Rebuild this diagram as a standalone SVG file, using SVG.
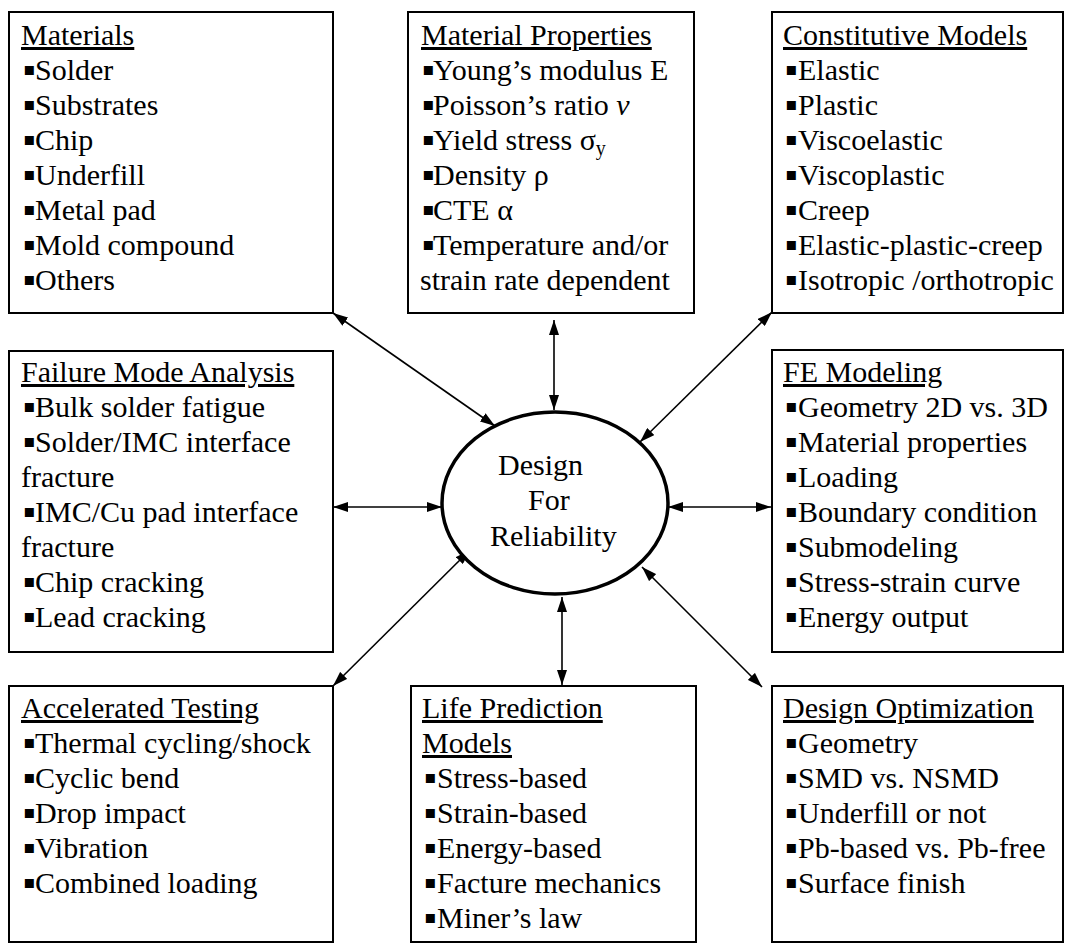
<svg xmlns="http://www.w3.org/2000/svg" width="1073" height="944" viewBox="0 0 1073 944">
  <style>
    .box { fill: #fff; stroke: #000; stroke-width: 2; }
    .t { font-family: "Liberation Serif", "Times New Roman", serif; font-size: 30px; fill: #000; }
    .h { text-decoration: underline; }
    .b { font-family: "DejaVu Sans", sans-serif; font-size: 18px; }
    .c { stroke: #000; stroke-width: 1.6; fill: none; marker-start: url(#ah); marker-end: url(#ah); }
  </style>
  <defs>
    <marker id="ah" viewBox="0 0 15 10" refX="15" refY="5" markerWidth="15" markerHeight="10" markerUnits="userSpaceOnUse" orient="auto-start-reverse">
      <path d="M0,0 L15,5 L0,10 z" fill="#000"/>
    </marker>
  </defs>

  <!-- connectors between the hub and the topic boxes -->
  <g id="connectors">
    <line class="c" x1="333" y1="313" x2="495" y2="426"/>
    <line class="c" x1="554" y1="320" x2="554" y2="410"/>
    <line class="c" x1="772" y1="312" x2="640" y2="442"/>
    <line class="c" x1="333" y1="507" x2="442" y2="507"/>
    <line class="c" x1="668" y1="507" x2="771" y2="507"/>
    <line class="c" x1="470" y1="550" x2="333" y2="686"/>
    <line class="c" x1="562" y1="597" x2="562" y2="685"/>
    <line class="c" x1="642" y1="567" x2="762" y2="687"/>
  </g>

  <g id="hub">
    <ellipse cx="555" cy="503" rx="113" ry="91" fill="#fff" stroke="#000" stroke-width="3.5"/>
    <text class="t" x="498" y="475">Design</text>
    <text class="t" x="528" y="510">For</text>
    <text class="t" x="490" y="546">Reliability</text>
  </g>

  <g id="materials">
    <rect class="box" x="9" y="12" width="324" height="301"/>
    <text class="t h" x="21" y="45">Materials</text>
    <text class="t" y="80"><tspan class="b" x="23" dy="-5">▪</tspan><tspan x="35" dy="5">Solder</tspan></text>
    <text class="t" y="115"><tspan class="b" x="23" dy="-5">▪</tspan><tspan x="35" dy="5">Substrates</tspan></text>
    <text class="t" y="150"><tspan class="b" x="23" dy="-5">▪</tspan><tspan x="35" dy="5">Chip</tspan></text>
    <text class="t" y="185"><tspan class="b" x="23" dy="-5">▪</tspan><tspan x="35" dy="5">Underfill</tspan></text>
    <text class="t" y="220"><tspan class="b" x="23" dy="-5">▪</tspan><tspan x="35" dy="5">Metal pad</tspan></text>
    <text class="t" y="255"><tspan class="b" x="23" dy="-5">▪</tspan><tspan x="35" dy="5">Mold compound</tspan></text>
    <text class="t" y="290"><tspan class="b" x="23" dy="-5">▪</tspan><tspan x="35" dy="5">Others</tspan></text>
  </g>

  <g id="material-properties">
    <rect class="box" x="408" y="12" width="286" height="301"/>
    <text class="t h" x="421" y="45">Material Properties</text>
    <text class="t" y="80"><tspan class="b" x="422" dy="-5">▪</tspan><tspan x="433" dy="5">Young’s modulus E</tspan></text>
    <text class="t" y="115"><tspan class="b" x="422" dy="-5">▪</tspan><tspan x="433" dy="5">Poisson’s ratio </tspan><tspan font-style="italic">v</tspan></text>
    <text class="t" y="150"><tspan class="b" x="422" dy="-5">▪</tspan><tspan x="433" dy="5">Yield stress σ</tspan><tspan font-size="20" dy="5">y</tspan></text>
    <text class="t" y="185"><tspan class="b" x="422" dy="-5">▪</tspan><tspan x="433" dy="5">Density ρ</tspan></text>
    <text class="t" y="220"><tspan class="b" x="422" dy="-5">▪</tspan><tspan x="433" dy="5">CTE α</tspan></text>
    <text class="t" y="255"><tspan class="b" x="422" dy="-5">▪</tspan><tspan x="433" dy="5">Temperature and/or</tspan></text>
    <text class="t" x="420" y="290">strain rate dependent</text>
  </g>

  <g id="constitutive-models">
    <rect class="box" x="772" y="12" width="291" height="301"/>
    <text class="t h" x="783" y="45">Constitutive Models</text>
    <text class="t" y="80"><tspan class="b" x="785" dy="-5">▪</tspan><tspan x="798" dy="5">Elastic</tspan></text>
    <text class="t" y="115"><tspan class="b" x="785" dy="-5">▪</tspan><tspan x="798" dy="5">Plastic</tspan></text>
    <text class="t" y="150"><tspan class="b" x="785" dy="-5">▪</tspan><tspan x="798" dy="5">Viscoelastic</tspan></text>
    <text class="t" y="185"><tspan class="b" x="785" dy="-5">▪</tspan><tspan x="798" dy="5">Viscoplastic</tspan></text>
    <text class="t" y="220"><tspan class="b" x="785" dy="-5">▪</tspan><tspan x="798" dy="5">Creep</tspan></text>
    <text class="t" y="255"><tspan class="b" x="785" dy="-5">▪</tspan><tspan x="798" dy="5">Elastic-plastic-creep</tspan></text>
    <text class="t" y="290"><tspan class="b" x="785" dy="-5">▪</tspan><tspan x="798" dy="5">Isotropic /orthotropic</tspan></text>
  </g>

  <g id="failure-mode-analysis">
    <rect class="box" x="9" y="351" width="324" height="301"/>
    <text class="t h" x="21" y="382">Failure Mode Analysis</text>
    <text class="t" y="417"><tspan class="b" x="23" dy="-5">▪</tspan><tspan x="35" dy="5">Bulk solder fatigue</tspan></text>
    <text class="t" y="452"><tspan class="b" x="23" dy="-5">▪</tspan><tspan x="35" dy="5">Solder/IMC interface</tspan></text>
    <text class="t" x="21" y="487">fracture</text>
    <text class="t" y="522"><tspan class="b" x="23" dy="-5">▪</tspan><tspan x="35" dy="5">IMC/Cu pad interface</tspan></text>
    <text class="t" x="21" y="557">fracture</text>
    <text class="t" y="592"><tspan class="b" x="23" dy="-5">▪</tspan><tspan x="35" dy="5">Chip cracking</tspan></text>
    <text class="t" y="627"><tspan class="b" x="23" dy="-5">▪</tspan><tspan x="35" dy="5">Lead cracking</tspan></text>
  </g>

  <g id="fe-modeling">
    <rect class="box" x="772" y="350" width="291" height="302"/>
    <text class="t h" x="783" y="382">FE Modeling</text>
    <text class="t" y="417"><tspan class="b" x="785" dy="-5">▪</tspan><tspan x="798" dy="5">Geometry 2D vs. 3D</tspan></text>
    <text class="t" y="452"><tspan class="b" x="785" dy="-5">▪</tspan><tspan x="798" dy="5">Material properties</tspan></text>
    <text class="t" y="487"><tspan class="b" x="785" dy="-5">▪</tspan><tspan x="798" dy="5">Loading</tspan></text>
    <text class="t" y="522"><tspan class="b" x="785" dy="-5">▪</tspan><tspan x="798" dy="5">Boundary condition</tspan></text>
    <text class="t" y="557"><tspan class="b" x="785" dy="-5">▪</tspan><tspan x="798" dy="5">Submodeling</tspan></text>
    <text class="t" y="592"><tspan class="b" x="785" dy="-5">▪</tspan><tspan x="798" dy="5">Stress-strain curve</tspan></text>
    <text class="t" y="627"><tspan class="b" x="785" dy="-5">▪</tspan><tspan x="798" dy="5">Energy output</tspan></text>
  </g>

  <g id="accelerated-testing">
    <rect class="box" x="9" y="686" width="324" height="256"/>
    <text class="t h" x="21" y="718">Accelerated Testing</text>
    <text class="t" y="753"><tspan class="b" x="23" dy="-5">▪</tspan><tspan x="35" dy="5">Thermal cycling/shock</tspan></text>
    <text class="t" y="788"><tspan class="b" x="23" dy="-5">▪</tspan><tspan x="35" dy="5">Cyclic bend</tspan></text>
    <text class="t" y="823"><tspan class="b" x="23" dy="-5">▪</tspan><tspan x="35" dy="5">Drop impact</tspan></text>
    <text class="t" y="858"><tspan class="b" x="23" dy="-5">▪</tspan><tspan x="35" dy="5">Vibration</tspan></text>
    <text class="t" y="893"><tspan class="b" x="23" dy="-5">▪</tspan><tspan x="35" dy="5">Combined loading</tspan></text>
  </g>

  <g id="life-prediction-models">
    <rect class="box" x="411" y="686" width="285" height="256"/>
    <text class="t h" x="422" y="718">Life Prediction</text>
    <text class="t h" x="422" y="753">Models</text>
    <text class="t" y="788"><tspan class="b" x="424" dy="-5">▪</tspan><tspan x="437" dy="5">Stress-based</tspan></text>
    <text class="t" y="823"><tspan class="b" x="424" dy="-5">▪</tspan><tspan x="437" dy="5">Strain-based</tspan></text>
    <text class="t" y="858"><tspan class="b" x="424" dy="-5">▪</tspan><tspan x="437" dy="5">Energy-based</tspan></text>
    <text class="t" y="893"><tspan class="b" x="424" dy="-5">▪</tspan><tspan x="437" dy="5">Facture mechanics</tspan></text>
    <text class="t" y="928"><tspan class="b" x="424" dy="-5">▪</tspan><tspan x="437" dy="5">Miner’s law</tspan></text>
  </g>

  <g id="design-optimization">
    <rect class="box" x="772" y="686" width="291" height="256"/>
    <text class="t h" x="783" y="718">Design Optimization</text>
    <text class="t" y="753"><tspan class="b" x="785" dy="-5">▪</tspan><tspan x="798" dy="5">Geometry</tspan></text>
    <text class="t" y="788"><tspan class="b" x="785" dy="-5">▪</tspan><tspan x="798" dy="5">SMD vs. NSMD</tspan></text>
    <text class="t" y="823"><tspan class="b" x="785" dy="-5">▪</tspan><tspan x="798" dy="5">Underfill or not</tspan></text>
    <text class="t" y="858"><tspan class="b" x="785" dy="-5">▪</tspan><tspan x="798" dy="5">Pb-based vs. Pb-free</tspan></text>
    <text class="t" y="893"><tspan class="b" x="785" dy="-5">▪</tspan><tspan x="798" dy="5">Surface finish</tspan></text>
  </g>
</svg>
